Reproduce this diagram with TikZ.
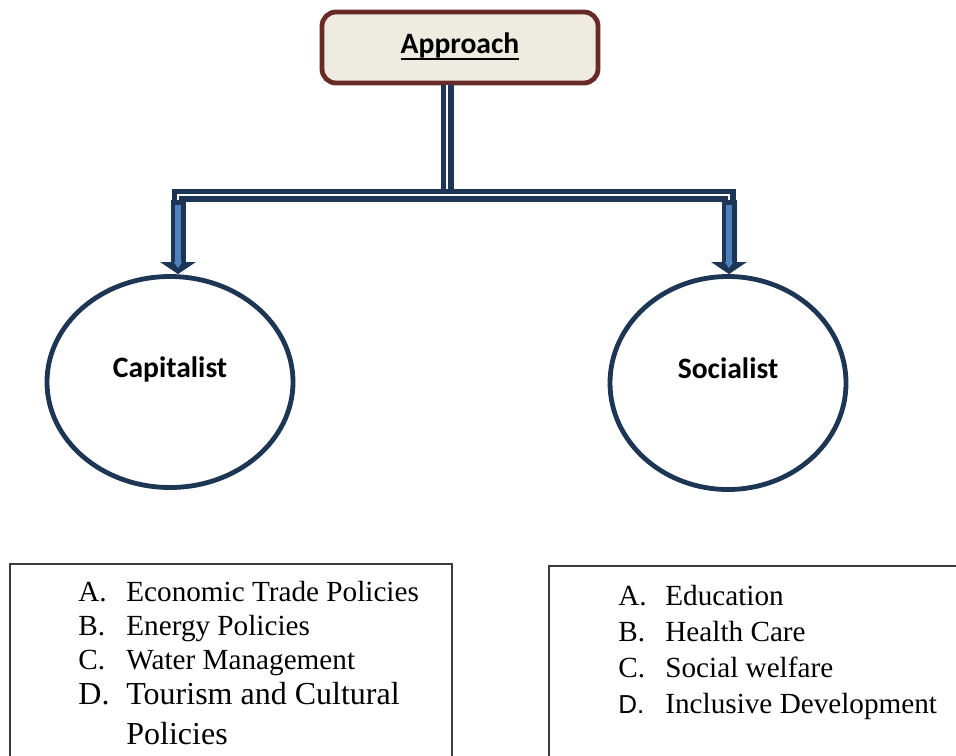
\documentclass[tikz,border=0pt]{standalone}
\usepackage{fontspec}
\setmainfont{Liberation Serif}
\newfontfamily\calibri{Carlito}
\newfontfamily\labelsans{Liberation Sans}
\usepackage{tikz}
\usetikzlibrary{arrows.meta,positioning,shapes.geometric}

\definecolor{navy}{HTML}{1D3655}
\definecolor{shaftblue}{HTML}{4F81BD}
\definecolor{apprred}{HTML}{682A27}
\definecolor{apprfill}{HTML}{EEECE1}
\definecolor{boxgray}{HTML}{3C3C3C}

\newcommand{\bigitem}{\fontsize{16}{17}\selectfont}
% heavier underline for the heading
\newcommand{\thickul}[1]{\setbox0\hbox{#1}\rlap{\rule[-3.4pt]{\wd0}{0.9pt}}\box0}

\begin{document}
\begin{tikzpicture}[
  x=0.5pt, y=-0.5pt,
  head/.style={draw=apprred, fill=apprfill, line width=2.4pt, rounded corners=7pt,
    minimum width=138pt, minimum height=35.5pt, inner sep=0,
    font=\calibri\bfseries\fontsize{14.8}{17}\selectfont},
  oval/.style={draw=navy, line width=2.4pt, ellipse, inner sep=0,
    text height=10pt, text depth=15pt,
    font=\calibri\bfseries\fontsize{14.8}{17}\selectfont},
  pipe/.style={draw=navy, line width=2.6pt, double=white, double distance=1.3pt},
  shaft/.style={navy, line width=7.5pt, -{Triangle[width=17.5pt, length=6pt]}},
  core/.style={shaftblue, line width=3pt, -{Triangle[width=4pt, length=3pt]},
    shorten <=2.5pt, shorten >=3pt},
  listbox/.style={draw=boxgray, line width=0.8pt, inner sep=0},
  listtext/.style={inner sep=0, anchor=base west}
]
\useasboundingbox (0,0) rectangle (956,755);

% top box and the two ovals
\node[head, text height=10pt, text depth=4.5pt] (appr) at (460,47.5) {\thickul{Approach}};
\node[oval, minimum width=123pt, minimum height=105.5pt] (cap) at (170,382) {Capitalist};
\node[oval, minimum width=118pt, minimum height=106.5pt] (soc) at (728,383) {Socialist};

% branching pipe
\coordinate (hub) at (447,195);
\coordinate (capTop) at (178,200);
\coordinate (socTop) at (729,200);
\draw[pipe] (appr.south -| hub) -- (hub);
\draw[pipe] (capTop) |- (hub) -| (socTop);

% block arrows
\draw[shaft] (capTop) -- (capTop |- cap.north);
\draw[core] (capTop) -- (capTop |- cap.north);
\draw[shaft] (socTop) -- (socTop |- soc.north);
\draw[core] (socTop) -- (socTop |- soc.north);

% lists below
\node[listbox, minimum width=221pt, minimum height=118pt] (capBox) at (231,682) {};
\node[listbox, minimum width=225.5pt, minimum height=117pt] (socBox) at (774.5,683) {};

\node[listtext, font=\fontsize{14.6}{17}\selectfont] (capList) at (78,601) {%
  \begin{tabular}[t]{@{}l@{}l@{}}
    \makebox[24pt][l]{A.} & Economic Trade Policies\\
    \makebox[24pt][l]{B.} & Energy Policies\\
    \makebox[24pt][l]{C.} & Water Management\\[0.5pt]
    \makebox[24pt][l]{\bigitem D.} & \bigitem Tourism and Cultural\\[3pt]
    & \bigitem Policies
  \end{tabular}};

\node[listtext, font=\fontsize{14.6}{18}\selectfont] (socList) at (618,605) {%
  \begin{tabular}[t]{@{}l@{}l@{}}
    \makebox[23.5pt][l]{A.} & Education\\
    \makebox[23.5pt][l]{B.} & Health Care\\
    \makebox[23.5pt][l]{C.} & Social welfare\\
    \makebox[23.5pt][l]{\labelsans\fontsize{13}{18}\selectfont D.} & Inclusive Development
  \end{tabular}};
\end{tikzpicture}
\end{document}
